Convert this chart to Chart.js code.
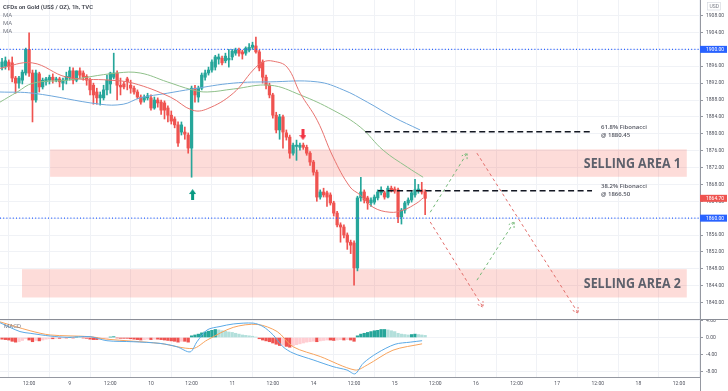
<!DOCTYPE html>
<html>
<head>
<meta charset="utf-8">
<script src="https://cdn.jsdelivr.net/npm/chart.js@4.4.0/dist/chart.umd.min.js"></script>
<style>
  body { margin: 0; background: #fff; }
  #wrap { position: relative; width: 728px; height: 391px; overflow: hidden; }
  canvas { position: absolute; left: 0; }
  #price { top: 0; }
  #macd { top: 319px; }
</style>
</head>
<body>
<div id="wrap">
  <canvas id="price" width="728" height="319"></canvas>
  <canvas id="macd" width="728" height="72"></canvas>
</div>
<script>
// x axis is in trading hours counted from the 8th 00:00 (weekend left out)
const firstHour = 4;
const dayLabels = ['8', '9', '10', '11', '14', '15', '16', '17', '18'];

// hourly candles
const opens = [1895.8,1896.0,1897.0,1896.8,1893.2,1892.0,1892.7,1894.4,1900.0,1894.4,
  1888.0,1894.2,1891.1,1892.3,1892.7,1893.4,1892.7,1893.0,1892.0,1892.7,
  1893.2,1894.9,1892.7,1894.9,1894.4,1893.6,1892.7,1891.5,1889.9,1888.5,
  1888.5,1890.4,1891.8,1893.4,1894.4,1891.5,1891.8,1893.0,1891.5,1890.8,
  1889.9,1888.7,1888.0,1888.5,1888.5,1886.1,1888.0,1887.5,1887.3,1886.1,
  1884.4,1883.5,1882.1,1880.4,1880.4,1879.7,1876.6,1890.8,1888.7,1890.8,
  1893.4,1894.4,1895.1,1895.8,1897.7,1897.9,1897.3,1897.5,1898.2,1899.1,
  1899.8,1899.4,1899.1,1899.8,1900.5,1900.8,1899.4,1897.0,1893.4,1891.5,
  1889.2,1884.4,1880.9,1884.0,1880.2,1879.2,1875.4,1877.0,1876.8,1877.3,
  1876.8,1875.4,1873.3,1870.9,1865.0,1866.2,1866.0,1865.5,1863.6,1861.2,
  1858.4,1857.9,1856.0,1854.3,1854.1,1848.2,1864.8,1866.2,1864.8,1863.6,
  1863.8,1864.8,1866.0,1866.0,1865.0,1867.1,1866.9,1866.7,1860.3,1861.9,
  1863.6,1864.3,1865.5,1866.4,1866.7,1866.2];
const highs = [1897.9,1898.2,1897.5,1898.2,1893.6,1893.6,1895.1,1900.3,1903.9,1895.1,
  1895.1,1894.6,1893.2,1893.4,1893.9,1894.2,1893.4,1893.4,1893.2,1894.6,
  1895.8,1895.6,1894.9,1895.6,1894.9,1894.0,1893.2,1892.0,1890.8,1889.9,
  1891.5,1893.9,1894.6,1899.1,1894.9,1893.2,1892.3,1893.4,1892.7,1891.3,
  1890.4,1889.2,1889.2,1889.6,1889.2,1888.7,1888.5,1888.0,1887.8,1886.6,
  1885.4,1884.0,1882.8,1882.8,1881.6,1880.2,1891.3,1891.5,1891.3,1894.4,
  1895.1,1895.8,1897.5,1898.6,1898.9,1898.4,1899.1,1900.0,1900.0,1900.3,
  1900.3,1899.8,1900.6,1901.4,1901.7,1902.9,1899.8,1897.5,1893.9,1892.0,
  1889.6,1885.1,1884.6,1884.4,1880.9,1879.7,1877.8,1878.5,1877.8,1877.8,
  1877.3,1875.8,1873.7,1871.4,1866.7,1867.1,1866.4,1866.0,1864.0,1861.6,
  1858.9,1858.4,1856.5,1854.8,1854.6,1865.2,1869.7,1866.7,1865.2,1864.8,
  1865.5,1866.7,1867.4,1866.4,1867.6,1867.6,1867.4,1867.1,1862.3,1864.0,
  1864.8,1866.4,1869.2,1868.0,1868.5,1866.7];
const lows = [1895.1,1895.3,1895.1,1892.3,1889.6,1890.8,1891.8,1893.9,1893.6,1882.8,
  1887.5,1889.9,1890.6,1891.5,1891.8,1892.0,1892.3,1891.1,1890.4,1891.8,
  1892.7,1891.8,1892.3,1893.2,1892.7,1891.5,1889.2,1887.0,1887.0,1886.8,
  1888.0,1889.2,1889.6,1893.0,1888.0,1889.2,1890.6,1890.4,1889.6,1889.4,
  1888.3,1887.0,1887.5,1888.0,1885.6,1885.8,1886.3,1884.6,1883.5,1882.8,
  1882.3,1881.4,1877.0,1879.7,1878.7,1875.4,1869.7,1887.5,1887.5,1890.4,
  1892.7,1893.9,1894.6,1895.1,1896.5,1896.3,1896.8,1895.8,1897.5,1898.6,
  1898.4,1897.7,1898.6,1899.4,1900.0,1899.1,1894.9,1892.0,1890.6,1888.5,
  1883.7,1880.2,1878.7,1876.6,1878.5,1874.2,1874.9,1873.7,1876.1,1876.3,
  1874.9,1872.5,1870.2,1864.0,1864.5,1865.0,1862.8,1863.1,1860.5,1857.9,
  1854.3,1855.3,1852.6,1851.6,1844.1,1847.5,1864.0,1863.6,1862.1,1862.8,
  1863.3,1864.3,1865.5,1864.5,1864.8,1866.2,1865.9,1858.9,1858.6,1861.2,
  1863.1,1863.8,1865.0,1865.9,1865.7,1860.8];
const closes = [1897.0,1897.3,1896.0,1893.2,1892.0,1893.2,1894.6,1900.0,1894.4,1888.0,
  1894.4,1891.1,1892.7,1893.0,1893.4,1892.7,1893.0,1892.3,1892.7,1893.6,
  1894.9,1892.7,1894.9,1893.9,1893.4,1892.7,1890.4,1889.2,1888.5,1889.2,
  1890.4,1892.7,1894.4,1894.4,1891.5,1891.1,1891.1,1892.3,1890.8,1889.9,
  1888.7,1887.5,1888.7,1889.0,1886.1,1888.0,1887.3,1885.6,1885.6,1884.4,
  1883.0,1882.1,1877.8,1882.1,1879.9,1876.6,1890.8,1889.2,1890.8,1893.9,
  1894.4,1895.1,1897.0,1898.2,1898.2,1896.8,1898.4,1897.9,1899.6,1899.8,
  1899.1,1898.9,1900.3,1900.5,1901.0,1899.4,1895.6,1893.4,1891.5,1889.2,
  1884.4,1880.9,1884.0,1880.4,1879.2,1875.4,1877.3,1877.3,1877.3,1876.8,
  1875.4,1873.3,1870.9,1865.0,1866.2,1865.5,1865.0,1863.6,1861.2,1858.4,
  1857.9,1856.0,1854.3,1853.6,1848.2,1864.8,1866.2,1864.3,1863.6,1864.3,
  1865.0,1866.2,1866.7,1865.0,1867.1,1866.7,1866.4,1860.3,1861.9,1863.6,
  1864.3,1866.0,1866.7,1866.9,1866.2,1864.7];

// moving averages as [hour, price]
const maRed = [[3.4,1895.5],[12.9,1896.8],[23.2,1893.4],[35.9,1892.7],[42.7,1892.0],[53.7,1888.7],
  [60.2,1885.6],[64.6,1885.9],[72.3,1889.6],[78.2,1895.1],[81.1,1897.0],[84.1,1897.2],[88.2,1895.8],
  [92.1,1889.6],[97.1,1883.2],[101.8,1874.5],[106.8,1867.4],[109.8,1865.5],[113.6,1862.6],
  [118.6,1861.4],[122.5,1861.9],[126.6,1863.6],[128.4,1864.8]];
const maGreen = [[3.4,1887.5],[8.5,1889.9],[13.2,1892.0],[23.2,1892.7],[38.0,1894.4],[44.8,1894.4],
  [52.8,1892.3],[60.2,1890.4],[64.6,1889.9],[72.3,1890.6],[83.2,1891.5],[92.1,1889.2],[101.8,1885.6],
  [109.8,1881.6],[116.6,1876.1],[123.7,1872.1],[128.4,1869.7]];
const maBlue = [[3.4,1889.9],[13.2,1889.6],[33.0,1887.0],[39.8,1887.0],[44.8,1888.5],[52.8,1889.6],
  [60.2,1890.6],[72.3,1892.0],[83.2,1892.3],[97.1,1892.3],[104.8,1890.4],[111.9,1887.5],
  [119.5,1884.0],[127.5,1880.9]];

// MACD panel
const macdLine = [[3.4,3.5],[9.3,1.4],[12.3,1.0],[18.2,0.35],[23.2,0.05],[30.0,0.2],[35.0,-0.76],
  [42.7,-1.0],[50.7,-1.4],[55.7,-2.2],[59.6,-3.4],[61.6,-1.0],[64.6,1.8],[68.4,2.6],[72.3,3.2],
  [78.2,3.4],[81.1,2.6],[84.1,0.6],[87.0,-2.2],[90.0,-3.7],[95.9,-5.3],[101.8,-6.9],[105.9,-7.7],
  [108.3,-8.6],[110.7,-6.1],[114.8,-3.7],[120.1,-1.6],[124.6,-1.1],[128.1,-0.76]];
const signalLine = [[3.4,3.7],[12.3,1.6],[18.2,0.6],[30.0,0.2],[35.0,-0.4],[50.7,-1.4],[60.4,-2.6],
  [64.6,-0.6],[72.3,2.4],[79.4,3.1],[85.3,1.4],[90.0,-2.2],[98.0,-4.5],[108.3,-7.7],[111.9,-6.5],
  [119.5,-3.0],[128.1,-1.5]];
const histogram = [-0.4,-0.5,-0.6,-0.9,-1.1,-1.0,-0.7,-0.3,-0.6,-1.0,
  -0.7,-0.8,-0.6,-0.4,-0.3,-0.3,-0.2,-0.2,-0.1,-0.1,
  0.0,-0.1,0.1,0.0,-0.1,-0.2,-0.4,-0.5,-0.5,-0.4,
  -0.3,-0.2,0.1,0.2,-0.1,-0.2,-0.2,-0.2,-0.3,-0.4,
  -0.5,-0.6,-0.5,-0.4,-0.5,-0.4,-0.4,-0.5,-0.6,-0.7,
  -0.8,-0.9,-1.1,-0.9,-0.9,-1.1,0.4,0.6,0.8,1.1,
  1.3,1.5,1.7,1.9,1.8,1.6,1.5,1.3,1.2,1.0,
  0.8,0.6,0.5,0.4,0.3,0.1,-0.3,-0.6,-0.8,-1.0,
  -1.3,-1.6,-1.9,-1.8,-2.1,-2.3,-2.0,-1.7,-1.5,-1.3,
  -1.1,-1.0,-0.9,-1.0,-0.8,-0.7,-0.6,-0.6,-0.7,-0.6,
  -0.5,-0.6,-0.5,-0.6,-0.9,0.4,0.8,1.0,1.2,1.4,
  1.6,1.7,1.9,1.9,1.8,1.6,1.4,1.0,0.8,0.7,
  0.6,0.7,0.8,0.7,0.6,0.5];

// drawings
const keyLevels = [1900, 1860];
const fibNames = ['61.8% Fibonacci', '38.2% Fibonacci'];
const fibLevels = [1880.45, 1866.50];
const fibStart = [111.3, 115.1];
const fibEnd = 178.3;
const zoneNames = ['SELLING AREA 1', 'SELLING AREA 2'];
const zoneTop = [1876.3, 1847.9];
const zoneBottom = [1869.8, 1841.2];
const zoneStart = [18.2, 9.9];
const zoneEnd = 206.3;
const pathUp1 = [[130.5, 1861.4], [141.4, 1875.4]];
const pathDown1 = [[144.3, 1875.4], [174.2, 1837.5]];
const pathDown2 = [[130.5, 1859.1], [146.1, 1838.9]];
const pathUp2 = [[144.3, 1845.3], [155.3, 1859.1]];
const buyMarker = [60.3, 1865.6];
const sellMarker = [92.9, 1879.8];
const lastPrice = 1864.70;

const xMin = 3.4, xMax = 210.2;
const upColor = '#26a69a', downColor = '#ef5350';
const gridColor = '#f0f2f6';
const axisColor = '#9598a1';

const hours = opens.map((o, i) => firstHour + i);
const candleColors = opens.map((o, i) => closes[i] >= o ? upColor : downColor);
const pts = arr => arr.map(p => ({ x: p[0], y: p[1] }));

function timeTicks(scale) {
  const t = [];
  for (let v = 12; v <= 204; v += 12) t.push({ value: v });
  scale.ticks = t;
}

function makeArrow(color, up) {
  const c = document.createElement('canvas');
  c.width = 7; c.height = 11;
  const g = c.getContext('2d');
  g.fillStyle = color;
  g.beginPath();
  if (up) {
    g.moveTo(3.5, 0); g.lineTo(7, 5); g.lineTo(5, 5); g.lineTo(5, 11);
    g.lineTo(2, 11); g.lineTo(2, 5); g.lineTo(0, 5);
  } else {
    g.moveTo(3.5, 11); g.lineTo(7, 6); g.lineTo(5, 6); g.lineTo(5, 0);
    g.lineTo(2, 0); g.lineTo(2, 6); g.lineTo(0, 6);
  }
  g.closePath(); g.fill();
  return c;
}

function pathSet(path, color) {
  return {
    type: 'line', data: pts(path), borderColor: color, borderWidth: 1,
    borderDash: [3, 3], pointRadius: 0, arrowHead: true, order: 1
  };
}

const overlay = {
  id: 'overlay',
  beforeDatasetsDraw(chart) {
    const { ctx, chartArea: a, scales: { x, y } } = chart;
    ctx.save();
    ctx.beginPath(); ctx.rect(a.left, a.top, a.width, a.height); ctx.clip();
    zoneNames.forEach((name, i) => {
      const x1 = x.getPixelForValue(zoneStart[i]), x2 = x.getPixelForValue(zoneEnd);
      const y1 = y.getPixelForValue(zoneTop[i]), y2 = y.getPixelForValue(zoneBottom[i]);
      ctx.fillStyle = 'rgba(244, 67, 54, 0.19)';
      ctx.fillRect(x1, y1, x2 - x1, y2 - y1);
      // label squeezed to the width it has in the picture
      ctx.font = 'bold 15px "Open Sans"';
      const w = ctx.measureText(name).width;
      const sx = 97 / w;
      ctx.save();
      ctx.setTransform(sx, 0, 0, 1, x2 - 6 - 97, (y1 + y2) / 2 + 0.5);
      ctx.textAlign = 'left'; ctx.textBaseline = 'middle';
      ctx.fillStyle = '#5d606b';
      ctx.fillText(name, 0, 0);
      ctx.restore();
    });
    ctx.restore();
  },
  afterDatasetsDraw(chart) {
    const { ctx, scales: { x, y } } = chart;
    ctx.save();
    chart.data.datasets.forEach((ds, i) => {
      if (!ds.arrowHead) return;
      const d = chart.getDatasetMeta(i).data;
      const p0 = d[0], p1 = d[d.length - 1];
      const ang = Math.atan2(p1.y - p0.y, p1.x - p0.x);
      ctx.strokeStyle = ds.borderColor; ctx.lineWidth = 1; ctx.setLineDash([2, 1.5]);
      ctx.beginPath();
      ctx.moveTo(p1.x - 6 * Math.cos(ang - 0.55), p1.y - 6 * Math.sin(ang - 0.55));
      ctx.lineTo(p1.x, p1.y);
      ctx.lineTo(p1.x - 6 * Math.cos(ang + 0.55), p1.y - 6 * Math.sin(ang + 0.55));
      ctx.stroke();
    });
    ctx.setLineDash([]);
    ctx.fillStyle = '#50535e';
    ctx.font = '600 6px "Open Sans"';
    ctx.textAlign = 'left'; ctx.textBaseline = 'middle';
    fibLevels.forEach((lv, i) => {
      const px = x.getPixelForValue(fibEnd) + 9, py = y.getPixelForValue(lv);
      ctx.fillText(fibNames[i], px, py - 4.5);
      ctx.fillText('@ ' + lv.toFixed(2), px, py + 3.5);
    });
    ctx.restore();
  },
  afterDraw(chart) {
    const { ctx, chartArea: a, scales: { y } } = chart;
    ctx.save();
    ctx.textBaseline = 'middle'; ctx.textAlign = 'left';
    ctx.fillStyle = '#3b3e48';
    ctx.font = '600 6px Roboto';
    ctx.fillText('CFDs on Gold (US$ / OZ), 1h, TVC', 3, 7);
    ctx.fillStyle = '#787b86';
    ctx.font = '6px Roboto';
    [15, 23.3, 31.7].forEach(t => ctx.fillText('MA', 3, t));
    const tags = [[keyLevels[0], '#2962ff'], [keyLevels[1], '#2962ff'], [lastPrice, '#ef5350']];
    tags.forEach(([v, c]) => {
      const py = y.getPixelForValue(v);
      ctx.fillStyle = c;
      ctx.fillRect(a.right, py - 3.5, 27, 7);
      ctx.fillStyle = '#fff';
      ctx.font = '5px Roboto';
      ctx.fillText(v.toFixed(2), a.right + 6, py + 0.3);
    });
    ctx.strokeStyle = '#d1d4dc'; ctx.lineWidth = 0.6;
    ctx.strokeRect(707.5, 2.5, 13, 7.5);
    ctx.fillStyle = '#787b86';
    ctx.font = '5px Roboto';
    ctx.fillText('USD', 709.5, 6.5);
    ctx.restore();
  }
};

new Chart(document.getElementById('price'), {
  type: 'bar',
  data: {
    datasets: [
      { type: 'line', data: pts(maRed), borderColor: '#e8736f', borderWidth: 1, pointRadius: 0, tension: 0.4, order: 3 },
      { type: 'line', data: pts(maGreen), borderColor: '#8fc08a', borderWidth: 1, pointRadius: 0, tension: 0.4, order: 3 },
      { type: 'line', data: pts(maBlue), borderColor: '#6fa8dc', borderWidth: 1, pointRadius: 0, tension: 0.4, order: 3 },
      { type: 'line', data: [{ x: xMin, y: keyLevels[0] }, { x: xMax, y: keyLevels[0] }], borderColor: '#2962ff', borderWidth: 1.2, borderDash: [1, 2.2], pointRadius: 0, order: 2 },
      { type: 'line', data: [{ x: xMin, y: keyLevels[1] }, { x: xMax, y: keyLevels[1] }], borderColor: '#2962ff', borderWidth: 1.2, borderDash: [1, 2.2], pointRadius: 0, order: 2 },
      { type: 'line', data: [{ x: fibStart[0], y: fibLevels[0] }, { x: fibEnd, y: fibLevels[0] }], borderColor: '#131722', borderWidth: 1.5, borderDash: [6, 3.5], pointRadius: 0, order: 1 },
      { type: 'line', data: [{ x: fibStart[1], y: fibLevels[1] }, { x: fibEnd, y: fibLevels[1] }], borderColor: '#131722', borderWidth: 1.5, borderDash: [6, 3.5], pointRadius: 0, order: 1 },
      pathSet(pathUp1, '#74b877'),
      pathSet(pathDown1, '#e26d6a'),
      pathSet(pathDown2, '#e26d6a'),
      pathSet(pathUp2, '#74b877'),
      { type: 'line', data: [{ x: buyMarker[0], y: buyMarker[1] }], showLine: false, pointStyle: makeArrow('#089981', true), order: 1 },
      { type: 'line', data: [{ x: sellMarker[0], y: sellMarker[1] }], showLine: false, pointStyle: makeArrow('#f23645', false), order: 1 },
      { data: hours.map((h, i) => ({ x: h, y: [opens[i], closes[i]] })), backgroundColor: candleColors, barThickness: 2.6, minBarLength: 1, grouped: false, order: 4 },
      { data: hours.map((h, i) => ({ x: h, y: [lows[i], highs[i]] })), backgroundColor: candleColors, barThickness: 1, grouped: false, order: 5 }
    ]
  },
  options: {
    responsive: false, animation: false, devicePixelRatio: 1, events: [],
    layout: { padding: 0, autoPadding: false },
    plugins: { legend: { display: false }, tooltip: { enabled: false } },
    scales: {
      x: {
        type: 'linear', min: xMin, max: xMax, offset: false,
        grid: { color: gridColor, drawTicks: false }, border: { display: false },
        ticks: { display: false },
        afterBuildTicks: timeTicks,
        afterFit: s => { s.height = 0; s.paddingLeft = 0; s.paddingRight = 0; }
      },
      y: {
        position: 'right', min: 1836.1, max: 1911.7,
        afterBuildTicks: s => { const t = []; for (let v = 1840; v <= 1908; v += 4) t.push({ value: v }); s.ticks = t; },
        ticks: { font: { family: 'Roboto', size: 5 }, color: '#50535e', padding: 3, autoSkip: false, callback: v => v.toFixed(2) },
        grid: { color: gridColor, tickColor: '#9598a1', tickLength: 3 },
        border: { color: axisColor },
        afterFit: s => { s.width = 28; s.paddingTop = 0; s.paddingBottom = 0; }
      }
    }
  },
  plugins: [overlay]
});

const histColors = histogram.map((v, i) => {
  const prev = i > 0 ? histogram[i - 1] : v;
  if (v >= 0) return v >= prev ? '#26a69a' : '#b2dfdb';
  return v <= prev ? '#ef5350' : '#ffcdd2';
});

const macdFrame = {
  id: 'macdFrame',
  afterDraw(chart) {
    const { ctx, chartArea: a } = chart;
    ctx.save();
    ctx.strokeStyle = '#8a8d96'; ctx.lineWidth = 1;
    ctx.beginPath(); ctx.moveTo(0, 0.5); ctx.lineTo(chart.width, 0.5); ctx.stroke();
    ctx.strokeStyle = axisColor;
    ctx.beginPath(); ctx.moveTo(a.right + 0.5, 0); ctx.lineTo(a.right + 0.5, chart.height); ctx.stroke();
    ctx.fillStyle = '#787b86';
    ctx.font = '6px Roboto'; ctx.textBaseline = 'middle';
    ctx.fillText('MACD', 4, 7.5);
    ctx.restore();
  }
};

new Chart(document.getElementById('macd'), {
  type: 'bar',
  data: {
    datasets: [
      { type: 'line', data: pts(macdLine), borderColor: '#5aa9e6', borderWidth: 1, pointRadius: 0, tension: 0.3, order: 1 },
      { type: 'line', data: pts(signalLine), borderColor: '#f7a35c', borderWidth: 1, pointRadius: 0, tension: 0.3, order: 1 },
      { data: hours.map((h, i) => ({ x: h, y: histogram[i] })), backgroundColor: histColors, barThickness: 2.6, grouped: false, order: 2 }
    ]
  },
  options: {
    responsive: false, animation: false, devicePixelRatio: 1, events: [],
    layout: { padding: 0, autoPadding: false },
    plugins: { legend: { display: false }, tooltip: { enabled: false } },
    scales: {
      x: {
        type: 'linear', min: xMin, max: xMax, offset: false,
        grid: { color: gridColor, drawTicks: false },
        border: { color: axisColor },
        afterBuildTicks: timeTicks,
        ticks: {
          font: { family: 'Roboto', size: 5 }, color: '#50535e', padding: 4, autoSkip: false, maxRotation: 0,
          callback: v => v % 24 === 0 ? dayLabels[v / 24] : '12:00'
        },
        afterFit: s => { s.height = 14; s.paddingLeft = 0; s.paddingRight = 0; }
      },
      y: {
        position: 'right', min: -9.35, max: 4.38,
        afterBuildTicks: s => { s.ticks = [4, 0, -4, -8].map(v => ({ value: v })); },
        ticks: { font: { family: 'Roboto', size: 5 }, color: '#50535e', padding: 3, autoSkip: false, callback: v => v.toFixed(2) },
        grid: { color: gridColor, tickColor: '#9598a1', tickLength: 3 },
        border: { color: axisColor },
        afterFit: s => { s.width = 28; s.paddingTop = 0; s.paddingBottom = 0; }
      }
    }
  },
  plugins: [macdFrame]
});
</script>
</body>
</html>
